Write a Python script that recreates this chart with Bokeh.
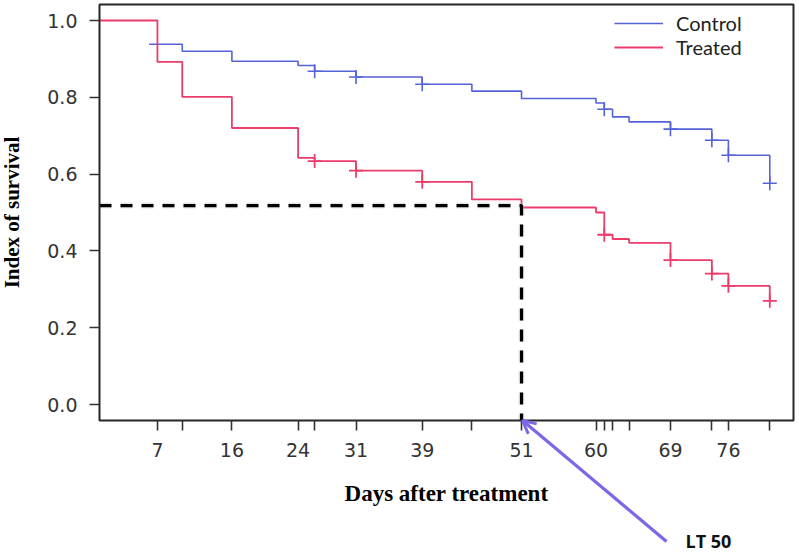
from bokeh.plotting import figure
from bokeh.models import (FixedTicker, PrintfTickFormatter, Range1d, Legend,
                          LegendItem, Arrow, OpenHead, Label, BoxAnnotation)
from bokeh.embed import file_html
from bokeh.resources import INLINE

# ---------------- data ----------------
control_days = [6, 10, 16, 24, 26, 31, 39, 45, 51, 60, 61, 62, 64, 69, 74, 76, 81]
control_surv = [0.938, 0.920, 0.894, 0.883, 0.868, 0.853, 0.834, 0.816, 0.797,
                0.785, 0.769, 0.749, 0.736, 0.717, 0.688, 0.649, 0.576]
control_censor_days = [26, 31, 39, 61, 69, 74, 76, 81]
control_censor_surv = [0.868, 0.853, 0.834, 0.769, 0.717, 0.688, 0.649, 0.576]

treated_days = [0, 7, 10, 16, 24, 26, 31, 39, 45, 51, 60, 61, 62, 64, 69, 74, 76, 81]
treated_surv = [1.0, 0.892, 0.801, 0.720, 0.642, 0.634, 0.609, 0.580, 0.534,
                0.513, 0.500, 0.442, 0.431, 0.421, 0.376, 0.341, 0.309, 0.270]
treated_censor_days = [26, 31, 39, 61, 69, 74, 76, 81]
treated_censor_surv = [0.634, 0.609, 0.580, 0.442, 0.376, 0.341, 0.309, 0.270]

tick_days = [7, 10, 16, 24, 26, 31, 39, 45, 51, 60, 61, 62, 64, 69, 74, 76, 81]
labelled_days = [7, 16, 24, 31, 39, 51, 60, 69, 76]
y_ticks = [0.0, 0.2, 0.4, 0.6, 0.8, 1.0]

lt50_day = 51
lt50_surv = 0.518

# ---------------- layout (pixels / scales) ----------------
W, H = 797, 551
PPX = 8.275          # pixels per day
PPY = 384.0          # pixels per unit of survival
ORIGIN_X = 99        # canvas x of day 0
ORIGIN_Y = 404       # canvas y of survival 0
BOX_X0, BOX_X1 = 0.0, (793 - ORIGIN_X) / PPX
BOX_Y0, BOX_Y1 = -16 / PPY, 1 + 16 / PPY

x_lo, x_hi = -ORIGIN_X / PPX, (W - ORIGIN_X) / PPX
y_lo, y_hi = -(H - ORIGIN_Y) / PPY, ORIGIN_Y / PPY

BLUE = "#5563d9"
RED = "#ec3d6a"

p = figure(width=W, height=H, output_backend="svg", toolbar_location=None,
           x_range=Range1d(x_lo, x_hi), y_range=Range1d(y_lo, y_hi),
           min_border_left=0, min_border_right=0, min_border_top=0,
           min_border_bottom=0, title=None)
p.grid.visible = False
p.outline_line_color = None
p.background_fill_color = "white"
p.border_fill_color = "white"

# plot box
p.add_layout(BoxAnnotation(left=BOX_X0, right=BOX_X1, bottom=BOX_Y0, top=BOX_Y1,
                           fill_alpha=0, fill_color=None, line_color="#262626",
                           line_alpha=1.0, line_width=2, level="glyph"))

# axes
p.xaxis.fixed_location = BOX_Y0
p.yaxis.fixed_location = BOX_X0
p.xaxis.bounds = (BOX_X0, BOX_X1)
p.yaxis.bounds = (BOX_Y0, BOX_Y1)
p.xaxis.ticker = FixedTicker(ticks=tick_days)
p.xaxis.major_label_overrides = {d: (str(d) if d in labelled_days else "") for d in tick_days}
p.yaxis.ticker = FixedTicker(ticks=y_ticks)
p.yaxis.formatter = PrintfTickFormatter(format="%.1f")
for ax in (p.xaxis, p.yaxis):
    ax.axis_line_color = None
    ax.major_tick_line_color = "#333333"
    ax.major_tick_line_width = 1.6
    ax.major_tick_out = 10
    ax.major_tick_in = 0
    ax.minor_tick_line_color = None
    ax.major_label_text_font = "DejaVu Sans"
    ax.major_label_text_font_size = "19px"
    ax.major_label_text_color = "#333333"
    ax.axis_label_text_font = "Liberation Serif"
    ax.axis_label_text_font_style = "bold"
    ax.axis_label_text_color = "black"
p.xaxis.major_label_standoff = 12
p.yaxis.major_label_standoff = 12
p.xaxis.axis_label = "Days after treatment"
p.xaxis.axis_label_text_font_size = "23px"
p.xaxis.axis_label_standoff = 21
p.yaxis.axis_label = "Index of survival"
p.yaxis.axis_label_text_font_size = "21px"
p.yaxis.axis_label_standoff = 20

# curves
r_c = p.step(control_days, control_surv, mode="after", line_color=BLUE, line_width=1.6)
r_t = p.step(treated_days, treated_surv, mode="after", line_color=RED, line_width=1.8)
p.scatter(control_censor_days, control_censor_surv, marker="cross", size=14,
          line_color=BLUE, line_width=1.6)
p.scatter(treated_censor_days, treated_censor_surv, marker="cross", size=14,
          line_color=RED, line_width=1.8)

# LT50 dashed guide
p.line([BOX_X0, lt50_day, lt50_day], [lt50_surv, lt50_surv, BOX_Y0],
       line_color="#bbbbbb", line_width=6, line_alpha=0.35, line_dash="12 9")
p.line([BOX_X0, lt50_day, lt50_day], [lt50_surv, lt50_surv, BOX_Y0],
       line_color="black", line_width=3.2, line_dash="12 9")

# arrow + label
ARROW_C = "#7b68e6"
p.add_layout(Arrow(end=OpenHead(size=13, line_color=ARROW_C, line_width=3),
                   x_start=lt50_day + 145 / PPX, y_start=BOX_Y0 - 121 / PPY,
                   x_end=lt50_day + 1 / PPX, y_end=BOX_Y0,
                   line_color=ARROW_C, line_width=3.2))
p.add_layout(Label(x=lt50_day + 164 / PPX, y=BOX_Y0 - 120 / PPY, text="LT 50",
                   text_font="Open Sans", text_font_style="bold",
                   text_font_size="18px", text_color="#111111",
                   text_baseline="middle", text_align="left"))

legend = Legend(items=[LegendItem(label="Control", renderers=[r_c]),
                       LegendItem(label="Treated", renderers=[r_t])],
                location=(614, H - 59))
legend.label_text_font = "Lato"
legend.label_text_font_size = "20px"
legend.label_text_color = "#222222"
legend.glyph_width = 49
legend.glyph_height = 18
legend.label_height = 18
legend.label_standoff = 13
legend.spacing = 0
legend.padding = 0
legend.margin = 0
legend.border_line_color = None
legend.background_fill_alpha = 0
p.add_layout(legend)

open("out.html", "w").write(file_html(p, INLINE))
